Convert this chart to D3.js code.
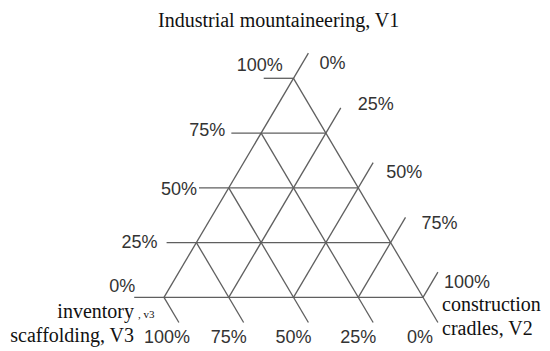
<!DOCTYPE html>
<html lang="en">
<head>
    <meta charset="UTF-8">
    <title>Ternary diagram</title>
    <script src="https://d3js.org/d3.v7.min.js"></script>
    <style>
        body { margin: 0; background: #fff; }
        .grid { stroke: #5f5f5f; stroke-width: 1.3; fill: none; }
        .tick-label { font-family: "Liberation Sans", Arial, sans-serif; font-size: 18px; fill: #333; }
        .title { font-family: "Liberation Serif", "Times New Roman", serif; font-size: 20px; fill: #111; }
    </style>
</head>
<body>
    <script>
       // Data
       var levels = [0, 25, 50, 75, 100];
       var tickLabels = ["0%", "25%", "50%", "75%", "100%"];
       var axisTitles = ["Industrial mountaineering, V1", "construction", "cradles, V2", "inventory", ", v3", "scaffolding, V3"];

       var width = 550, height = 351;
       var ext = 11.5; // tick extension, in % of a side

       // x from (v2 + v1/2), y from v1
       var x = d3.scaleLinear().domain([0, 100]).range([164, 423]);
       var y = d3.scaleLinear().domain([0, 100]).range([297.3, 78.3]);

       function pt(v1, v2) { return [x(v2 + v1 / 2), y(v1)]; }

       // label nudges (dx, dy) from the tick ends, as placed in the original
       var leftNudge  = {0: [1, -5], 25: [-9, 5], 50: [-2, 7], 75: [-6, 3], 100: [19, -7]};
       var rightNudge = {0: [11, 16], 25: [17, 2], 50: [13, 15], 75: [16, 12], 100: [6, 16]};

       var svg = d3.select("body").append("svg")
           .attr("width", width)
           .attr("height", height);

       var line = d3.line();

       // V1 = a : horizontal lines, extended to the left
       svg.selectAll(".g1")
           .data(levels)
           .enter().append("path")
           .attr("class", "grid")
           .attr("d", function(a) { return line([pt(a, -ext), pt(a, 100 - a)]); });

       // V2 = b : parallel to left edge, extended up-right
       svg.selectAll(".g2")
           .data(levels)
           .enter().append("path")
           .attr("class", "grid")
           .attr("d", function(b) { return line([pt(0, b), pt(100 - b + ext, b)]); });

       // V3 = c : parallel to right edge, extended down-right
       svg.selectAll(".g3")
           .data(levels)
           .enter().append("path")
           .attr("class", "grid")
           .attr("d", function(c) { return line([pt(100 - c, 0), pt(-ext, 100 - c + ext)]); });

       // Left labels (V1)
       svg.selectAll(".l1")
           .data(levels)
           .enter().append("text")
           .attr("class", "tick-label")
           .attr("text-anchor", "end")
           .attr("x", function(a) { return pt(a, -ext)[0] + leftNudge[a][0]; })
           .attr("y", function(a) { return pt(a, -ext)[1] + leftNudge[a][1]; })
           .text(function(a, i) { return tickLabels[i]; });

       // Right labels (V2)
       svg.selectAll(".l2")
           .data(levels)
           .enter().append("text")
           .attr("class", "tick-label")
           .attr("x", function(b) { return pt(100 - b + ext, b)[0] + rightNudge[b][0]; })
           .attr("y", function(b) { return pt(100 - b + ext, b)[1] + rightNudge[b][1]; })
           .text(function(b, i) { return tickLabels[i]; });

       // Bottom labels (V3)
       svg.selectAll(".l3")
           .data(levels)
           .enter().append("text")
           .attr("class", "tick-label")
           .attr("text-anchor", "middle")
           .attr("x", function(c) { return pt(0, 100 - c)[0] + (c === 100 ? 3 : c === 0 ? -3 : 0); })
           .attr("y", 343)
           .text(function(c, i) { return tickLabels[i]; });

       // Axis titles
       svg.append("text").attr("class", "title")
           .attr("x", 158).attr("y", 26.5).text(axisTitles[0]);
       svg.append("text").attr("class", "title")
           .attr("x", 442).attr("y", 311).text(axisTitles[1]);
       svg.append("text").attr("class", "title")
           .attr("x", 442).attr("y", 335).text(axisTitles[2]);
       svg.append("text").attr("class", "title")
           .attr("text-anchor", "end")
           .attr("x", 134).attr("y", 318).text(axisTitles[3]);
       svg.append("text").attr("class", "title")
           .attr("x", 138).attr("y", 318).style("font-size", "11px").text(axisTitles[4]);
       svg.append("text").attr("class", "title")
           .attr("text-anchor", "end")
           .attr("x", 134).attr("y", 341.5).text(axisTitles[5]);
    </script>
</body>
</html>
